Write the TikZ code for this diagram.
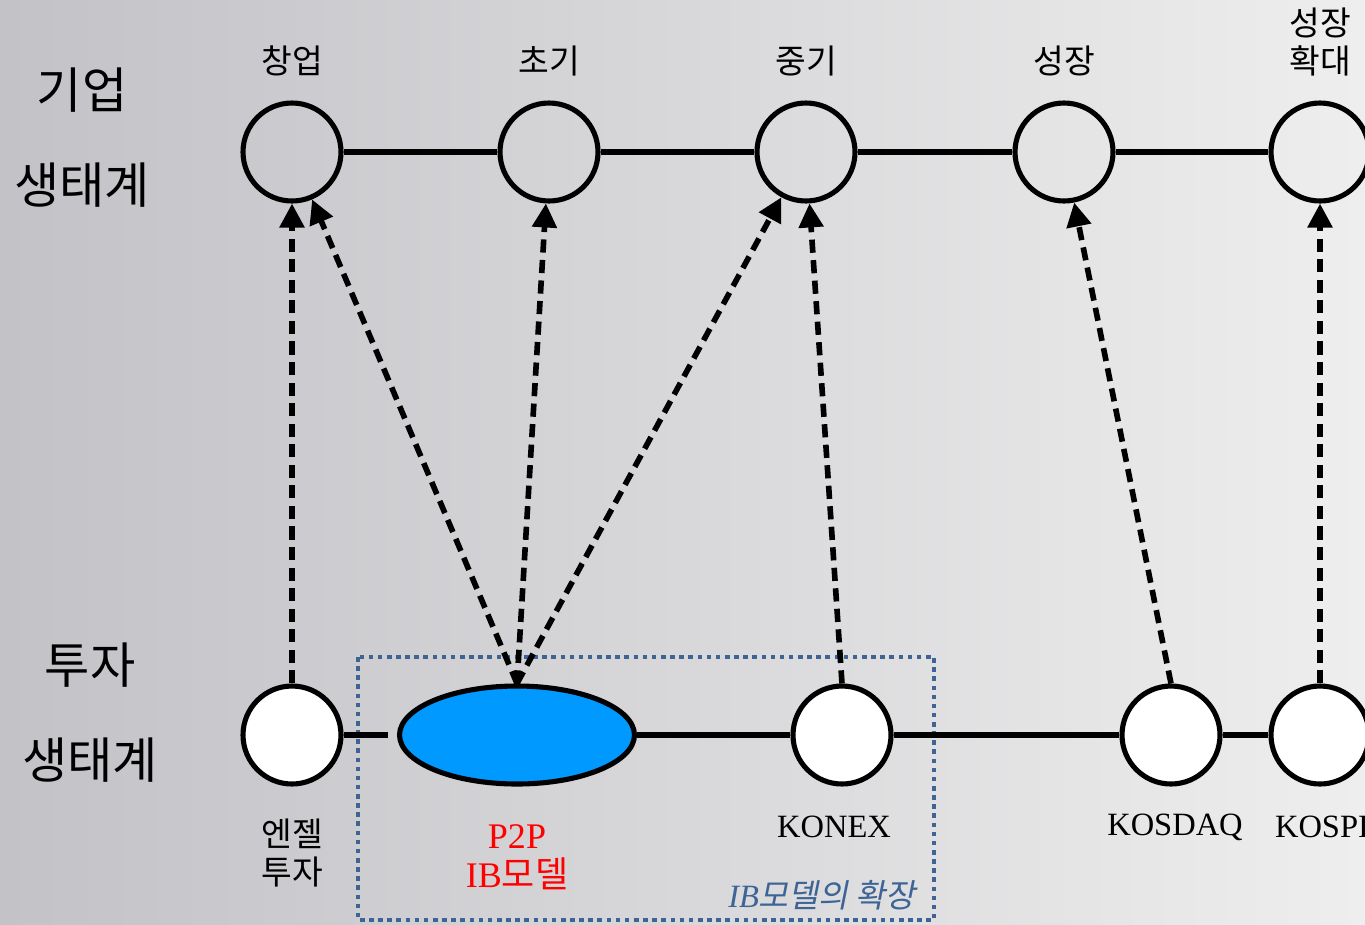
\documentclass[tikz,border=0pt]{standalone}
\usepackage{fontspec}
\setmainfont{Liberation Serif}
\newfontfamily\kr{Noto Sans CJK KR}
\newfontfamily\krslant[FakeSlant=0.2]{Noto Sans CJK KR}
\usetikzlibrary{shapes.geometric,arrows.meta}
\definecolor{p2pblue}{HTML}{0099FF}
\definecolor{boxblue}{HTML}{3D6494}
\definecolor{bgdark}{HTML}{C2C2C7}
\definecolor{bglight}{HTML}{EEEEEE}
\tikzset{
  stage/.style={circle,draw=black,line width=2.9pt,minimum size=1.96cm,inner sep=0pt},
  market/.style={stage,fill=white},
  chain/.style={draw=black,line width=2.9pt},
  flow/.style={draw=black,line width=3.2pt,dash pattern=on 7.5pt off 4.2pt,-{Triangle[length=0.48cm,width=0.48cm]}},
  ibbox/.style={draw=boxblue,line width=2.6pt,dash pattern=on 2.6pt off 2.6pt},
  steplabel/.style={font=\fontsize{19}{22}\selectfont\kr,align=center},
  sidelabel/.style={font=\fontsize{28}{30}\selectfont\kr},
  marketlabel/.style={font=\fontsize{18.5}{22}\selectfont,align=center},
}

\begin{document}
\begin{tikzpicture}[x=0.02cm,y=-0.02cm]
  \useasboundingbox (0,0) rectangle (1365,924);
  \shade[left color=bgdark,right color=bglight] (0,0) rectangle (1365,924);

  % firm stages
  \node[stage] (startup) at (292,152) {};
  \node[stage] (early) at (549,152) {};
  \node[stage] (mid) at (806,152) {};
  \node[stage] (growth) at (1064,152) {};
  \node[stage] (expand) at (1320,152) {};
  \draw[chain] (startup) -- (early) -- (mid) -- (growth) -- (expand);

  % investment markets
  \draw[ibbox] (358,657) rectangle (934,920);
  \node[market] (angel) at (292,735) {};
  \node[ellipse,draw=black,line width=2.9pt,fill=p2pblue,minimum width=4.7cm,minimum height=1.96cm,inner sep=0pt] (p2p) at (517,735) {};
  \node[market] (konex) at (842,735) {};
  \node[market] (kosdaq) at (1171,735) {};
  \node[market] (kospi) at (1320,735) {};
  \draw[chain,shorten >=0.18cm] (angel) -- (p2p);
  \draw[chain] (p2p) -- (konex) -- (kosdaq) -- (kospi);

  \draw[flow] (angel.north) -- (startup);
  \draw[flow] (p2p.north) -- (startup);
  \draw[flow] (p2p.north) -- (early);
  \draw[flow] (p2p.north) -- (mid);
  \draw[flow] (konex.north) -- (mid);
  \draw[flow] (kosdaq.north) -- (growth);
  \draw[flow] (kospi.north) -- (expand);

  % labels
  \node[steplabel] (lstartup) at (292,61) {창업};
  \node[steplabel] (learly) at (549,61) {초기};
  \node[steplabel] (lmid) at (806,61) {중기};
  \node[steplabel] (lgrowth) at (1064,61) {성장};
  \node[steplabel] (lexpand) at (1320,42) {성장\\확대};

  \node[sidelabel] (lfirmA) at (82,90) {기업};
  \node[sidelabel] (lfirmB) at (82,185) {생태계};
  \node[sidelabel] (linvA) at (90,665) {투자};
  \node[sidelabel] (linvB) at (90,760) {생태계};

  \node[steplabel] (langel) at (292,853) {엔젤\\투자};
  \node[marketlabel,font=\fontsize{20.5}{22}\selectfont,text=red] (lp2p) at (517,857) {P2P\\IB{\kr 모델}};
  \node[marketlabel] (lkonex) at (834,827) {KONEX};
  \node[marketlabel] (lkosdaq) at (1175,827) {KOSDAQ};
  \node[marketlabel] (lkospi) at (1322,827) {KOSPI};
  \node[marketlabel,text=boxblue] (libext) at (822,895) {\itshape IB{\krslant 모델의 확장}};
\end{tikzpicture}
\end{document}
